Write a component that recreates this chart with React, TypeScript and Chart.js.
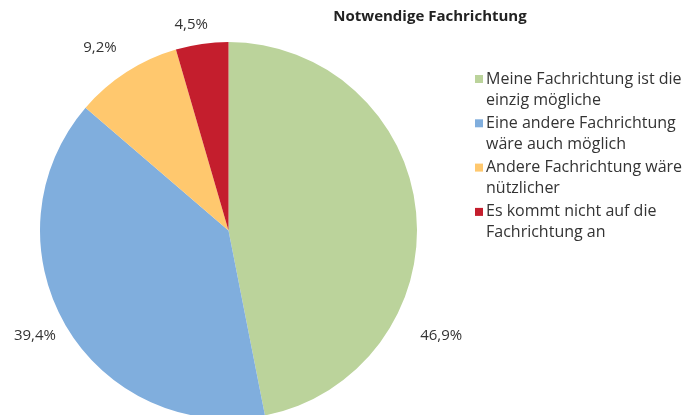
import React, { useEffect, useRef } from "react";
import { Chart, registerables } from "chart.js";

Chart.register(...registerables);

const title = "Notwendige Fachrichtung";
const categories: string[][] = [
  ["Meine Fachrichtung ist die", "einzig mögliche"],
  ["Eine andere Fachrichtung", "wäre auch möglich"],
  ["Andere Fachrichtung wäre", "nützlicher"],
  ["Es kommt nicht auf die", "Fachrichtung an"],
];
const values = [46.9, 39.4, 9.2, 4.5];
const valueLabels = ["46,9%", "39,4%", "9,2%", "4,5%"];
const colors = ["#BBD39B", "#80AEDD", "#FFC86E", "#C41E2D"];

const FONT = "'Open Sans', sans-serif";

export default function App() {
  const ref = useRef<HTMLCanvasElement | null>(null);
  useEffect(() => {
    if (!ref.current) return;
    const overlay = {
      id: "overlay",
      afterDraw(chart: any) {
        const ctx = chart.ctx as CanvasRenderingContext2D;
        ctx.save();
        // title
        ctx.fillStyle = "#222";
        ctx.font = `bold 15px ${FONT}`;
        ctx.textAlign = "center";
        ctx.textBaseline = "middle";
        ctx.fillText(title, 430, 17);
        // value labels
        const meta = chart.getDatasetMeta(0);
        const shifts = [32, 1.6, -2.4, -2.2];
        const factors = [1.26, 1.17, 1.184, 1.108];
        ctx.font = `15px ${FONT}`;
        ctx.fillStyle = "#333";
        meta.data.forEach((arc: any, i: number) => {
          const p = arc.getProps(["x", "y", "startAngle", "endAngle", "outerRadius"], true);
          const mid = (p.startAngle + p.endAngle) / 2 + (shifts[i] * Math.PI) / 180;
          const r = p.outerRadius * factors[i];
          ctx.fillText(valueLabels[i], p.x + Math.cos(mid) * r, p.y + Math.sin(mid) * r);
        });
        // legend
        ctx.textAlign = "left";
        ctx.font = `16px ${FONT}`;
        const top = 79;
        const itemGap = 44.3;
        const lineGap = 21;
        categories.forEach((lines, i) => {
          const y0 = top + i * itemGap;
          ctx.fillStyle = colors[i];
          ctx.fillRect(475, y0 - 4, 8, 8);
          ctx.fillStyle = "#333";
          lines.forEach((ln, j) => ctx.fillText(ln, 486, y0 + j * lineGap));
        });
        ctx.restore();
      },
    };
    const chart = new Chart(ref.current, {
      type: "pie",
      data: {
        labels: categories.map((l) => l.join(" ")),
        datasets: [
          {
            data: values,
            backgroundColor: colors,
            borderWidth: 0,
          },
        ],
      },
      options: {
        animation: false,
        responsive: false,
        layout: { padding: { left: 40, right: 270, top: 42, bottom: 1 } },
        plugins: {
          legend: { display: false },
          title: { display: false },
          tooltip: { enabled: false },
        },
      },
      plugins: [overlay],
    });
    return () => chart.destroy();
  }, []);
  return (
    <div
      style={{
        position: "absolute",
        left: 0,
        top: 0,
        width: 687,
        height: 415,
        overflow: "hidden",
        background: "#fff",
      }}
    >
      <canvas ref={ref} width={687} height={420} style={{ width: 687, height: 420, display: "block" }} />
    </div>
  );
}
